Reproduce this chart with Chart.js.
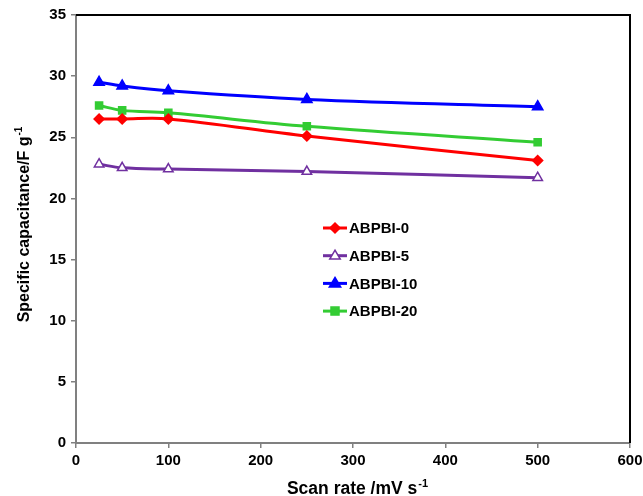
<!DOCTYPE html>
<html>
<head>
<meta charset="utf-8">
<script src="https://cdn.jsdelivr.net/npm/chart.js@4/dist/chart.umd.min.js"></script>
<style>
  html, body { margin: 0; padding: 0; background: #fff; }
  #wrap { width: 643px; height: 496px; position: relative; }
</style>
</head>
<body>
<div id="wrap"><canvas id="c" width="643" height="496"></canvas></div>
<script>
// ---- data ----
const scanRates = [25, 50, 100, 250, 500];
const abpbi0  = [26.5, 26.5, 26.5, 25.1, 23.1];
const abpbi5  = [22.8, 22.5, 22.4, 22.2, 21.7];
const abpbi10 = [29.5, 29.2, 28.8, 28.1, 27.5];
const abpbi20 = [27.6, 27.2, 27.0, 25.9, 24.6];
const seriesNames = ['ABPBI-0', 'ABPBI-5', 'ABPBI-10', 'ABPBI-20'];
const xTicks = [0, 100, 200, 300, 400, 500, 600];
const yTicks = [0, 5, 10, 15, 20, 25, 30, 35];
const xTitle = ['Scan rate /mV s', '-1'];
const yTitle = ['Specific capacitance/F g', '-1'];

const pts = (ys) => scanRates.map((x, i) => ({ x: x, y: ys[i] }));

const FONT = '"Liberation Sans", Arial, sans-serif';
const styles = [
  { color: '#FF0000', fill: '#FF0000', shape: 'rectRot', r: 5 },
  { color: '#7030A0', fill: '#FFFFFF', shape: 'triangle', r: 5.5 },
  { color: '#0000FF', fill: '#0000FF', shape: 'triangle', r: 6 },
  { color: '#33CC33', fill: '#33CC33', shape: 'rect', r: 5 }
];
const allData = [abpbi0, abpbi5, abpbi10, abpbi20];

const datasets = allData.map((d, i) => ({
  label: seriesNames[i],
  data: pts(d),
  borderColor: styles[i].color,
  backgroundColor: styles[i].fill,
  pointBorderColor: styles[i].color,
  pointBackgroundColor: styles[i].fill,
  pointStyle: styles[i].shape,
  pointRadius: styles[i].r,
  pointBorderWidth: 1.5,
  borderWidth: 3,
  tension: 0.35,
  fill: false
}));

function drawMarker(ctx, shape, x, y, r, stroke, fill) {
  ctx.save();
  ctx.beginPath();
  if (shape === 'rectRot') {
    ctx.moveTo(x, y - r); ctx.lineTo(x + r, y); ctx.lineTo(x, y + r); ctx.lineTo(x - r, y);
  } else if (shape === 'triangle') {
    ctx.moveTo(x, y - r); ctx.lineTo(x + r * 0.95, y + r * 0.6); ctx.lineTo(x - r * 0.95, y + r * 0.6);
  } else {
    ctx.rect(x - r * 0.8, y - r * 0.8, r * 1.6, r * 1.6);
  }
  ctx.closePath();
  ctx.fillStyle = fill; ctx.fill();
  ctx.lineWidth = 1.5; ctx.strokeStyle = stroke; ctx.stroke();
  ctx.restore();
}

function drawSup(ctx, main, sup, x, y, size) {
  ctx.font = 'bold ' + size + 'px ' + FONT;
  const w1 = ctx.measureText(main).width;
  ctx.font = 'bold ' + Math.round(size * 0.62) + 'px ' + FONT;
  const w2 = ctx.measureText(sup).width;
  const start = x - (w1 + w2) / 2;
  ctx.textAlign = 'left';
  ctx.textBaseline = 'alphabetic';
  ctx.font = 'bold ' + size + 'px ' + FONT;
  ctx.fillText(main, start, y);
  ctx.font = 'bold ' + Math.round(size * 0.62) + 'px ' + FONT;
  ctx.fillText(sup, start + w1 + 1, y - size * 0.42);
}

const decor = {
  id: 'decor',
  afterDraw(chart) {
    const ctx = chart.ctx;
    const a = chart.chartArea;
    ctx.save();
    // top and right frame
    ctx.strokeStyle = '#000';
    ctx.lineWidth = 2;
    ctx.beginPath();
    ctx.moveTo(a.left, a.top); ctx.lineTo(a.right, a.top); ctx.lineTo(a.right, a.bottom);
    ctx.stroke();
    // axis titles
    ctx.fillStyle = '#000';
    drawSup(ctx, xTitle[0], xTitle[1], (a.left + a.right) / 2 + 4, 494, 17.5);
    ctx.save();
    ctx.translate(29, (a.top + a.bottom) / 2 - 4);
    ctx.rotate(-Math.PI / 2);
    drawSup(ctx, yTitle[0], yTitle[1], 0, 0, 16);
    ctx.restore();
    // legend
    const lx = a.left + 247, ly = a.top + 213, gap = 27.7;
    seriesNames.forEach((name, i) => {
      const y = ly + i * gap;
      ctx.strokeStyle = styles[i].color;
      ctx.lineWidth = 3;
      ctx.beginPath(); ctx.moveTo(lx, y); ctx.lineTo(lx + 24, y); ctx.stroke();
      drawMarker(ctx, styles[i].shape, lx + 12, y, styles[i].r, styles[i].color, styles[i].fill);
      ctx.fillStyle = '#000';
      ctx.font = 'bold 15px ' + FONT;
      ctx.textAlign = 'left';
      ctx.textBaseline = 'middle';
      ctx.fillText(name, lx + 26, y + 1);
    });
    ctx.restore();
  }
};

new Chart(document.getElementById('c'), {
  type: 'line',
  data: { datasets: datasets },
  options: {
    responsive: false,
    animation: false,
    devicePixelRatio: 1,
    layout: { padding: { left: 0, right: 13, top: 15, bottom: 0 } },
    plugins: { legend: { display: false }, tooltip: { enabled: false } },
    scales: {
      x: {
        type: 'linear', min: 0, max: 600,
        afterBuildTicks(s) { s.ticks = xTicks.map(v => ({ value: v })); },
        afterFit(s) { s.height = 53; s.paddingLeft = 0; s.paddingRight = 0; },
        grid: { drawOnChartArea: false, drawTicks: true, tickLength: 5, color: '#808080', lineWidth: 1.5 },
        border: { color: '#808080', width: 2 },
        ticks: { color: '#000', padding: 4, font: { family: FONT, size: 15, weight: 'bold' } }
      },
      y: {
        type: 'linear', min: 0, max: 35,
        afterBuildTicks(s) { s.ticks = yTicks.map(v => ({ value: v })); },
        afterFit(s) { s.width = 76; s.paddingTop = 0; s.paddingBottom = 0; },
        grid: { drawOnChartArea: false, drawTicks: true, tickLength: 5, color: '#808080', lineWidth: 1.5 },
        border: { color: '#808080', width: 2 },
        ticks: { color: '#000', padding: 5, font: { family: FONT, size: 15, weight: 'bold' } }
      }
    }
  },
  plugins: [decor]
});
</script>
</body>
</html>
